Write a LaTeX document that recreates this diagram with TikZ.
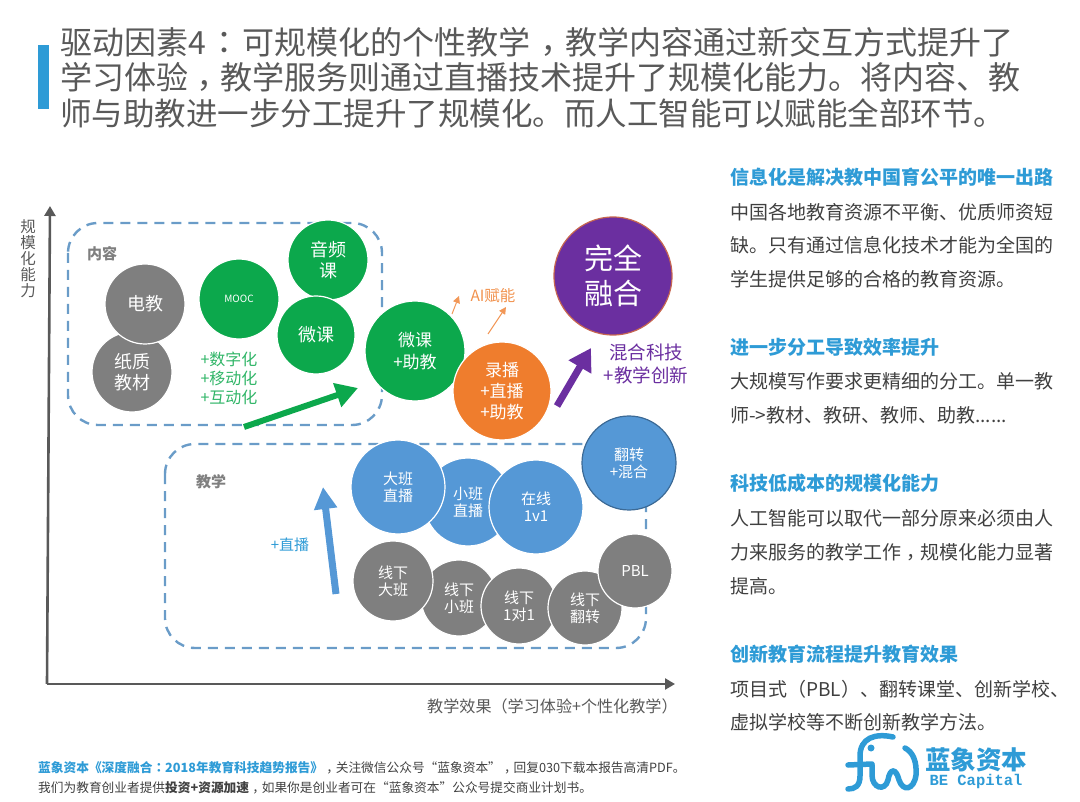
\documentclass[tikz,border=0pt]{standalone}
\usepackage{fontspec}
\setmainfont{Noto Sans CJK SC}
\newfontfamily\logofont{Liberation Mono}
\newfontfamily\tcfont{Noto Sans CJK TC}
\newcommand{\midp}[1]{{\tcfont #1}}
\newcommand{\lowc}{\smash{\raisebox{-0.27em}{\tcfont ，}}}
\usetikzlibrary{arrows.meta}
\definecolor{bargray}{HTML}{595959}
\definecolor{bodygray}{HTML}{404040}
\definecolor{headblue}{HTML}{2E9BD6}
\definecolor{dashblue}{HTML}{6A9CC8}
\definecolor{ballgreen}{HTML}{0CA84C}
\definecolor{ballgray}{HTML}{7F7F7F}
\definecolor{ballblue}{HTML}{5598D6}
\definecolor{ballorange}{HTML}{EF7D2D}
\definecolor{ballpurple}{HTML}{6B2FA0}
\tikzset{
	ball/.style={circle,inner sep=0pt,draw=white,line width=1.2pt,text=white,align=center},
	titleline/.style={anchor=west,inner sep=0pt,text=bargray,font=\fontsize{32}{36}\selectfont},
	headline/.style={anchor=west,inner sep=0pt,text=headblue,font=\fontsize{19}{22}\selectfont\bfseries},
	bodyline/.style={anchor=west,inner sep=0pt,text=bodygray,font=\fontsize{19}{22}\selectfont},
	footline/.style={anchor=west,inner sep=0pt,text=bodygray,font=\fontsize{12.7}{14}\selectfont},
	dashbox/.style={dashblue,line width=2.4pt,dash pattern=on 10pt off 7pt,rounded corners=30pt},
	axisline/.style={bargray,line width=2.6pt,-{Triangle[width=11pt,length=10pt]}},
	logoline/.style={headblue,line width=5.5pt,line cap=round},
}

\begin{document}
\begin{tikzpicture}[x=1pt,y=-1pt]
	\useasboundingbox (0,0) rectangle (1080,802);

	% title
	\fill[headblue] (38,45) rectangle (49,109);
	\node[titleline] (title1) at (60,42) {驱动因素4\makebox[37pt]{\midp{：}}可规模化的个性教学\makebox[35pt]{\lowc}教学内容通过新交互方式提升了};
	\node[titleline] (title2) at (60,77) {学习体验\lowc 教学服务则通过直播技术提升了规模化能力。将内容、教};
	\node[titleline,font=\fontsize{31.5}{36}\selectfont] (title3) at (60,113) {师与助教进一步分工提升了规模化。而人工智能可以赋能全部环节。};

	% axes
	\coordinate (origin) at (47,684);
	\coordinate (xend) at (675,684);
	\coordinate (yend) at (50,206);
	\draw[axisline] (origin) -- (xend);
	\draw[axisline] (origin) -- (yend);
	\node[inner sep=0pt,align=center,text=bargray,font=\fontsize{15.5}{16}\selectfont] (ylabel) at (28,259) {规\\模\\化\\能\\力};
	\node[anchor=west,inner sep=0pt,text=bargray,font=\fontsize{16.1}{18}\selectfont] (xlabel) at (427,706) {教学效果\midp{（}学习体验+个性化教学\midp{）}};

	% dashed areas
	\draw[dashbox] (68,223) rectangle (382,425);
	\draw[dashbox] (165,444) rectangle (646,648);
	\node[text=ballgray,font=\fontsize{15}{18}\selectfont\bfseries] (content) at (102,254) {内容};
	\node[text=ballgray,font=\fontsize{15}{18}\selectfont\bfseries] (teach) at (211,482) {教学};

	% balls
	\foreach \nm/\x/\y/\r/\col/\fsz/\lsk/\txt in {
		paper/132/372/40/ballgray/18/21/{纸质\\教材},
		video/145/304/40/ballgray/18/21/{电教},
		mooc/239/299/40/ballgreen/10/12/{MOOC},
		audio/328/260/40/ballgreen/18/21/{音频\\课},
		micro/316/335/39/ballgreen/18/21/{微课},
		microta/415/351/50/ballgreen/17/22/{微课\\+助教},
		record/502/391/49/ballorange/17/21/{录播\\+直播\\+助教},
		liveS/468/502/44/ballblue/15/17/{小班\\直播},
		liveB/398/487/47/ballblue/15/17/{大班\\直播},
		oneone/536/507/47/ballblue/15/17/{在线\\1v1},
		offS/459/598/38/ballgray/15/17/{线下\\小班},
		offB/393/581/40/ballgray/15/17/{线下\\大班},
		offO/519/606/38/ballgray/15/17/{线下\\1对1},
		offF/585/608/37/ballgray/15/17/{线下\\翻转},
		pbl/635/571/37/ballgray/15/17/{PBL}}{
		\node[ball,fill=\col,minimum size=\r*2pt,font=\fontsize{\fsz}{\lsk}\selectfont] (\nm) at (\x,\y) {\txt};
	}
	\node[ball,fill=ballblue,draw=ballblue!70!black,minimum size=94pt,font=\fontsize{15}{17}\selectfont] (flip) at (629,463) {翻转\\+混合};
	\node[ball,fill=ballpurple,draw=ballorange!70!ballpurple,minimum size=118pt,font=\fontsize{29}{35}\selectfont] (full) at (613,276) {完全\\融合};

	% green, blue, purple, orange arrows
	\coordinate (gA) at (244,427);
	\coordinate (gB) at (358,388);
	\draw[ballgreen,line width=6pt,-{Triangle[width=24pt,length=22pt]}] (gA) -- (gB);
	\coordinate (bA) at (336,594);
	\coordinate (bB) at (323,487);
	\draw[ballblue,line width=7pt,-{Triangle[width=22pt,length=22pt]}] (bA) -- (bB);
	\coordinate (pA) at (557,406);
	\coordinate (pB) at (591,348);
	\draw[ballpurple,line width=7pt,-{Triangle[width=25pt,length=22pt]}] (pA) -- (pB);
	\coordinate (oA) at (452,314);
	\coordinate (oB) at (459,296);
	\draw[ballorange!80!white,line width=1pt,-{Triangle[width=7pt,length=7pt]}] (oA) -- (oB);
	\coordinate (oC) at (488,334);
	\coordinate (oD) at (506,307);
	\draw[ballorange!80!white,line width=1pt,-{Triangle[width=7pt,length=7pt]}] (oC) -- (oD);

	% captions
	\node[align=left,inner sep=0pt,text=ballgreen!85!white,font=\fontsize{16}{19}\selectfont] (plusg) at (229,378) {+数字化\\+移动化\\+互动化};
	\node[inner sep=0pt,text=ballorange!85!white,font=\fontsize{15.5}{18}\selectfont] (ailabel) at (493,296) {AI赋能};
	\node[align=center,inner sep=0pt,text=ballpurple,font=\fontsize{18.5}{23.5}\selectfont] (pluspu) at (646,364) {混合科技\\+教学创新};
	\node[inner sep=0pt,text=headblue,font=\fontsize{15}{18}\selectfont] (plusb) at (290,545) {+直播};

	% right column
	\node[headline] (h1) at (730,177) {信息化是解决教中国育公平的唯一出路};
	\node[bodyline] (b11) at (730,212) {中国各地教育资源不平衡、优质师资短};
	\node[bodyline] (b12) at (730,245) {缺。只有通过信息化技术才能为全国的};
	\node[bodyline] (b13) at (730,279) {学生提供足够的合格的教育资源。};
	\node[headline] (h2) at (730,347) {进一步分工导致效率提升};
	\node[bodyline] (b21) at (730,381) {大规模写作要求更精细的分工。单一教};
	\node[bodyline] (b22) at (730,415) {师->教材、教研、教师、助教......};
	\node[headline] (h3) at (730,483) {科技低成本的规模化能力};
	\node[bodyline] (b31) at (730,518) {人工智能可以取代一部分原来必须由人};
	\node[bodyline] (b32) at (730,552) {力来服务的教学工作\lowc 规模化能力显著};
	\node[bodyline] (b33) at (730,586) {提高。};
	\node[headline] (h4) at (730,654) {创新教育流程提升教育效果};
	\node[bodyline] (b41) at (730,689) {项目式\midp{（}PBL\midp{）}、翻转课堂、创新学校、};
	\node[bodyline] (b42) at (730,722) {虚拟学校等不断创新教学方法。};

	% footer
	\node[footline] (foot1) at (38,768) {{\color{headblue}\bfseries 蓝象资本《深度融合\midp{：}2018年教育科技趋势报告》}\lowc 关注微信公众号“蓝象资本”\lowc 回复030下载本报告高清PDF。};
	\node[footline] (foot2) at (38,788) {我们为教育创业者提供{\bfseries 投资+资源加速}\lowc 如果你是创业者可在“蓝象资本”公众号提交商业计划书。};

	% logo
	\draw[logoline] (893,737) .. controls (875,733) and (860,738) .. (860,756) -- (860,776) .. controls (860,786) and (855,789) .. (848,789);
	\draw[logoline] (848,765) -- (872,764);
	\fill[headblue] (871,748) circle (3.5);
	\draw[logoline] (872,765) -- (872,775) .. controls (872,788) and (885,792) .. (888,780) .. controls (890,768) and (896,768) .. (899,780) .. controls (903,792) and (914,790) .. (916,775) .. controls (917,762) and (913,752) .. (905,748);
	\node[inner sep=0pt,text=headblue,font=\fontsize{25.5}{28}\selectfont\bfseries] (logocn) at (976,760) {蓝象资本};
	\node[inner sep=0pt,text=headblue,font=\logofont\fontsize{15.5}{18}\selectfont\bfseries] (logoen) at (976,781) {BE Capital};
\end{tikzpicture}
\end{document}
